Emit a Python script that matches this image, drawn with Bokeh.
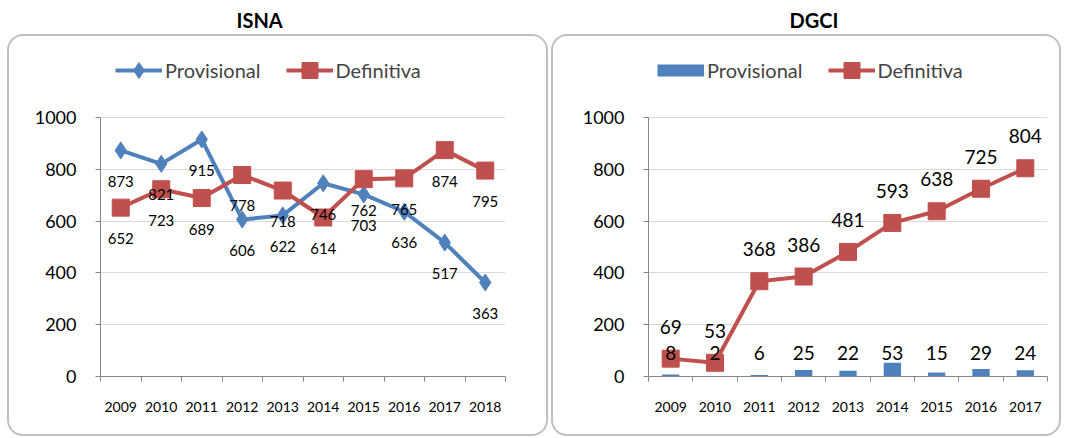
from urllib.parse import quote
from bokeh.plotting import figure
from bokeh.layouts import row
from bokeh.models import (ColumnDataSource, Legend, LegendItem, FixedTicker, Range1d)
from bokeh.core.properties import value
from bokeh.embed import file_html
from bokeh.resources import INLINE

# ---------------- data ----------------
isna_years = ["2009", "2010", "2011", "2012", "2013", "2014", "2015", "2016", "2017", "2018"]
isna_prov = [873, 821, 915, 606, 622, 746, 703, 636, 517, 363]
isna_def = [652, 723, 689, 778, 718, 614, 762, 765, 874, 795]

dgci_years = ["2009", "2010", "2011", "2012", "2013", "2014", "2015", "2016", "2017"]
dgci_prov = [8, 2, 6, 25, 22, 53, 15, 29, 24]
dgci_def = [69, 53, 368, 386, 481, 593, 638, 725, 804]

y_ticks = [0, 200, 400, 600, 800, 1000]
series_names = ["Provisional", "Definitiva"]

BLUE = "#4f81bd"
RED = "#c0504d"
FONT = "Lato"
H = 438
FRAME_TOP = 35      # frame extends up to the panel top (room for the legend)
Y1000 = 117         # pixel row of the 1000 gridline
Y0 = 376            # pixel row of the 0 axis
Y_MAX = 1000 * (Y0 - FRAME_TOP) / (Y0 - Y1000)


def panel_css(width, x0, x1):
    svg = ("<svg xmlns='http://www.w3.org/2000/svg' width='%d' height='%d'>"
           "<rect x='%d' y='35' width='%d' height='400' rx='15' ry='15' fill='white' "
           "stroke='#c0c0c0' stroke-width='2'/></svg>") % (width, H, x0, x1 - x0)
    return {"background-image": 'url("data:image/svg+xml,%s")' % quote(svg),
            "background-repeat": "no-repeat", "background-color": "white"}


def base_fig(title, years, width, left, right, title_offset, px0, px1):
    n = len(years)
    p = figure(width=width, height=H, x_range=Range1d(0, n), y_range=Range1d(0, Y_MAX),
               output_backend="svg", toolbar_location=None,
               min_border_left=left, min_border_right=right,
               min_border_top=FRAME_TOP, min_border_bottom=H - Y0)
    p.styles = panel_css(width, px0, px1)
    p.border_fill_color = None
    p.background_fill_color = None
    p.title.text = title
    p.title.text_font = FONT
    p.title.text_font_size = "20px"
    p.title.text_font_style = "bold"
    p.title.text_color = "black"
    p.title.align = "left"
    p.title.offset = title_offset
    p.title.standoff = 7
    p.outline_line_color = None
    p.xgrid.grid_line_color = None
    p.ygrid.grid_line_color = "#d9d9d9"
    p.ygrid.grid_line_width = 1

    centers = [i + 0.5 for i in range(n)]
    p.xaxis.ticker = FixedTicker(ticks=centers, minor_ticks=list(range(n + 1)))
    p.xaxis.major_label_overrides = {c: y for c, y in zip(centers, years)}
    p.xaxis.major_tick_line_color = None
    p.xaxis.major_tick_out = 5
    p.xaxis.major_tick_in = 0
    p.xaxis.minor_tick_line_color = "#868686"
    p.xaxis.minor_tick_out = 5
    p.xaxis.minor_tick_in = 0
    p.xaxis.axis_line_color = "#868686"
    p.xaxis.major_label_text_font = FONT
    p.xaxis.major_label_text_font_size = "14px"
    p.xaxis.major_label_text_color = "black"
    p.xaxis.major_label_standoff = 20

    p.yaxis.ticker = FixedTicker(ticks=y_ticks)
    p.yaxis.bounds = (y_ticks[0], y_ticks[-1])
    p.yaxis.minor_tick_line_color = None
    p.yaxis.major_tick_out = 5
    p.yaxis.major_tick_in = 0
    p.yaxis.major_tick_line_color = "#868686"
    p.yaxis.axis_line_color = "#868686"
    p.yaxis.major_label_text_font = FONT
    p.yaxis.major_label_text_font_size = "18px"
    p.yaxis.major_label_text_color = "black"
    p.yaxis.major_label_standoff = 19
    return p, centers


def make_legend(items, x):
    # legend row centred 70px from the top: top edge at 50, glyph height 40
    return Legend(items=items, orientation="horizontal", location=(x, Y0 - 50 - 40),
                  glyph_width=47, glyph_height=40, label_standoff=3, spacing=25,
                  label_text_font=FONT, label_text_font_size="20px",
                  border_line_color=None, background_fill_alpha=0, padding=0, margin=0)


# ---------------- ISNA ----------------
W1 = 549
p1, c1 = base_fig("ISNA", isna_years, W1, 100, W1 - 505, 136, 8, 547)
src1 = ColumnDataSource(dict(x=c1, prov=isna_prov, dfn=isna_def,
                             prov_lbl=[str(v) for v in isna_prov],
                             dfn_lbl=[str(v) for v in isna_def]))
l1 = p1.line("x", "prov", source=src1, line_color=BLUE, line_width=4)
s1 = p1.scatter("x", "prov", source=src1, marker="diamond", size=17, fill_color=BLUE, line_color=BLUE)
l2 = p1.line("x", "dfn", source=src1, line_color=RED, line_width=4)
s2 = p1.scatter("x", "dfn", source=src1, marker="square", size=17, fill_color=RED, line_color=RED)
p1.text("x", "prov", text="prov_lbl", source=src1, text_align="center", text_baseline="middle",
        y_offset=31, text_font=value(FONT), text_font_size="15px", text_color="black")
p1.text("x", "dfn", text="dfn_lbl", source=src1, text_align="center", text_baseline="middle",
        y_offset=31, text_font=value(FONT), text_font_size="15px", text_color="black")
leg1 = make_legend([LegendItem(label=series_names[0], renderers=[l1, s1]),
                    LegendItem(label=series_names[1], renderers=[l2, s2])], 15)
p1.add_layout(leg1, "center")

# ---------------- DGCI ----------------
W2 = 516
p2, c2 = base_fig("DGCI", dgci_years, W2, 99, W2 - 498, 141, 3, 511)
src2 = ColumnDataSource(dict(x=c2, prov=dgci_prov, dfn=dgci_def, base=[0] * len(dgci_prov),
                             prov_lbl=[str(v) for v in dgci_prov],
                             dfn_lbl=[str(v) for v in dgci_def]))
b2 = p2.vbar(x="x", top="prov", source=src2, width=0.39, fill_color=BLUE, line_color=None)
# legend swatch for the bar series (thin, wide block as in the original legend)
swatch = p2.line("x", "prov", source=src2, line_color=BLUE, line_width=12, visible=False)
l3 = p2.line("x", "dfn", source=src2, line_color=RED, line_width=4)
s3 = p2.scatter("x", "dfn", source=src2, marker="square", size=17, fill_color=RED, line_color=RED)
p2.text("x", "dfn", text="dfn_lbl", source=src2, text_align="center", text_baseline="middle",
        y_offset=-32, text_font=value(FONT), text_font_size="19px", text_color="black")
p2.text("x", "base", text="prov_lbl", source=src2, text_align="center", text_baseline="middle",
        y_offset=-24, text_font=value(FONT), text_font_size="19px", text_color="black")
leg2 = make_legend([LegendItem(label=series_names[0], renderers=[swatch]),
                    LegendItem(label=series_names[1], renderers=[l3, s3])], 9)
p2.add_layout(leg2, "center")

layout = row(p1, p2)
open("out.html", "w").write(file_html(layout, INLINE))
